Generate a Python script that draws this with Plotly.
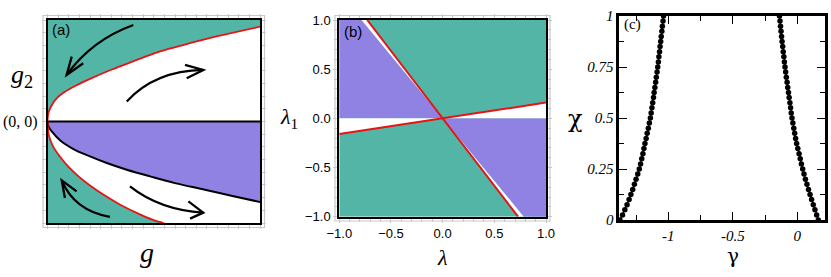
import plotly.graph_objects as go

# ---------------- Panel (a) data ----------------
a_upper_red_g = [0, 0.005, 0.02, 0.044, 0.08, 0.13, 0.2, 0.3, 0.4, 0.53, 0.65, 0.8, 1.0]
a_upper_red_g2 = [0, 0.09, 0.16, 0.23, 0.29, 0.35, 0.42, 0.51, 0.59, 0.69, 0.76, 0.84, 0.934]
a_lower_red_g = [0, 0.005, 0.0127, 0.03, 0.06, 0.1, 0.146, 0.2, 0.27, 0.342, 0.44, 0.51, 0.544, 0.6]
a_lower_red_g2 = [0, -0.12, -0.18, -0.26, -0.35, -0.45, -0.54, -0.63, -0.73, -0.82, -0.92, -0.98, -1.0, -1.05]
a_black_g = [0, 0.005, 0.02, 0.06, 0.122, 0.2, 0.279, 0.373, 0.483, 0.6, 0.741, 0.87, 1.0]
a_black_g2 = [0, -0.05, -0.098, -0.187, -0.271, -0.344, -0.409, -0.475, -0.541, -0.607, -0.672, -0.733, -0.793]

# ---------------- Panel (b) data ----------------
b_steep_red_x = [-0.73, 0.73]
b_steep_red_y = [1.0, -1.0]
b_purple_edge_x = [-0.785, 0.785]
b_purple_edge_y = [1.0, -1.0]
b_shallow_red_x = [-1.0, 1.0]
b_shallow_red_y = [-0.16, 0.16]
b_tick_vals = [-1.0, -0.5, 0.0, 0.5, 1.0]

# ---------------- Panel (c) data ----------------
c_chi = [0.000, 0.025, 0.050, 0.075, 0.100, 0.125, 0.150, 0.175, 0.200, 0.225,
         0.250, 0.275, 0.300, 0.325, 0.350, 0.375, 0.400, 0.425, 0.450, 0.475,
         0.500, 0.525, 0.550, 0.575, 0.600, 0.625, 0.650, 0.675, 0.700, 0.725,
         0.750, 0.775, 0.800, 0.825, 0.850, 0.875, 0.900, 0.925, 0.950, 0.975, 1.000]
c_gamma_left = [-1.375, -1.355, -1.337, -1.320, -1.304, -1.290, -1.276, -1.263, -1.250, -1.237,
                -1.225, -1.215, -1.206, -1.197, -1.189, -1.181, -1.172, -1.164, -1.155, -1.147,
                -1.139, -1.133, -1.127, -1.121, -1.115, -1.110, -1.104, -1.098, -1.093, -1.087,
                -1.082, -1.077, -1.073, -1.068, -1.064, -1.059, -1.055, -1.050, -1.046, -1.041, -1.037]
c_gamma_right = [0.163, 0.150, 0.137, 0.124, 0.111, 0.099, 0.087, 0.075, 0.063, 0.052,
                 0.042, 0.032, 0.023, 0.014, 0.004, -0.005, -0.013, -0.020, -0.027, -0.034,
                 -0.041, -0.047, -0.052, -0.057, -0.063, -0.068, -0.074, -0.079, -0.085, -0.090,
                 -0.095, -0.100, -0.104, -0.109, -0.113, -0.118, -0.122, -0.126, -0.130, -0.134, -0.138]
c_x_tickvals = [-1, -0.5, 0]
c_x_ticktext = ["-1", "-0.5", "0"]
c_y_tickvals = [0, 0.25, 0.5, 0.75, 1]
c_y_ticktext = ["0", "0.25", "0.5", "0.75", "1"]

GREEN = "rgb(82,181,166)"
PURPLE = "rgb(144,130,226)"
RED = "rgb(230,20,20)"
W, H = 831, 277

fig = go.Figure()

# ---------- panel (a) ----------
fig.add_trace(go.Scatter(x=[0, 1, 1, 0], y=[-1, -1, 1, 1], fill="toself", fillcolor=GREEN,
                         mode="lines", line=dict(width=0), xaxis="x", yaxis="y", hoverinfo="skip"))
wx = a_upper_red_g + [1.0, 1.0] + a_lower_red_g[::-1]
wy = a_upper_red_g2 + [a_upper_red_g2[-1], -1.1] + a_lower_red_g2[::-1]
fig.add_trace(go.Scatter(x=wx, y=wy, fill="toself", fillcolor="white", mode="lines",
                         line=dict(width=0, shape="spline"), xaxis="x", yaxis="y", hoverinfo="skip"))
px_ = a_black_g + [1.0]
py_ = a_black_g2 + [0.0]
fig.add_trace(go.Scatter(x=px_, y=py_, fill="toself", fillcolor=PURPLE, mode="lines",
                         line=dict(width=0), xaxis="x", yaxis="y", hoverinfo="skip"))
fig.add_trace(go.Scatter(x=[0, 1], y=[0, 0], mode="lines", line=dict(color="black", width=2),
                         xaxis="x", yaxis="y"))
fig.add_trace(go.Scatter(x=a_black_g, y=a_black_g2, mode="lines", line=dict(color="black", width=2, shape="spline"),
                         xaxis="x", yaxis="y"))
fig.add_trace(go.Scatter(x=a_upper_red_g, y=a_upper_red_g2, mode="lines", line=dict(color=RED, width=1.8, shape="spline"),
                         xaxis="x", yaxis="y"))
fig.add_trace(go.Scatter(x=a_lower_red_g, y=a_lower_red_g2, mode="lines", line=dict(color=RED, width=1.8, shape="spline"),
                         xaxis="x", yaxis="y"))

# ---------- panel (b) ----------
fig.add_trace(go.Scatter(x=[-1, 1, 1, -1], y=[-1, -1, 1, 1], fill="toself", fillcolor=GREEN,
                         mode="lines", line=dict(width=0), xaxis="x2", yaxis="y2", hoverinfo="skip"))
fig.add_trace(go.Scatter(x=[-1, 0, b_purple_edge_x[0], -1], y=[0, 0, 1, 1], fill="toself", fillcolor=PURPLE,
                         mode="lines", line=dict(width=0), xaxis="x2", yaxis="y2", hoverinfo="skip"))
fig.add_trace(go.Scatter(x=[0, 1, 1, b_purple_edge_x[1]], y=[0, 0, -1, -1], fill="toself", fillcolor=PURPLE,
                         mode="lines", line=dict(width=0), xaxis="x2", yaxis="y2", hoverinfo="skip"))
fig.add_trace(go.Scatter(x=[0, b_purple_edge_x[0], b_steep_red_x[0]], y=[0, 1, 1], fill="toself", fillcolor="white",
                         mode="lines", line=dict(width=0), xaxis="x2", yaxis="y2", hoverinfo="skip"))
fig.add_trace(go.Scatter(x=[0, b_purple_edge_x[1], b_steep_red_x[1]], y=[0, -1, -1], fill="toself", fillcolor="white",
                         mode="lines", line=dict(width=0), xaxis="x2", yaxis="y2", hoverinfo="skip"))
fig.add_trace(go.Scatter(x=[-1, 0, -1], y=[0, 0, b_shallow_red_y[0]], fill="toself", fillcolor="white",
                         mode="lines", line=dict(width=0), xaxis="x2", yaxis="y2", hoverinfo="skip"))
fig.add_trace(go.Scatter(x=[0, 1, 1], y=[0, 0, b_shallow_red_y[1]], fill="toself", fillcolor="white",
                         mode="lines", line=dict(width=0), xaxis="x2", yaxis="y2", hoverinfo="skip"))
fig.add_trace(go.Scatter(x=b_steep_red_x, y=b_steep_red_y, mode="lines", line=dict(color=RED, width=2),
                         xaxis="x2", yaxis="y2"))
fig.add_trace(go.Scatter(x=b_shallow_red_x, y=b_shallow_red_y, mode="lines", line=dict(color=RED, width=2),
                         xaxis="x2", yaxis="y2"))

# ---------- panel (c) ----------
for gx in (c_gamma_left, c_gamma_right):
    fig.add_trace(go.Scatter(x=gx, y=c_chi, mode="lines+markers",
                             line=dict(color="black", width=1.2),
                             marker=dict(color="black", size=5.5),
                             cliponaxis=False, xaxis="x3", yaxis="y3"))

# ---------- layout ----------
def dom(x0, x1, y0, y1):
    return [x0 / W, x1 / W], [1 - y1 / H, 1 - y0 / H]

ax_a, ay_a = dom(47.5, 260, 20, 223)
ax_b, ay_b = dom(339.3, 546, 20, 216.7)
ax_c, ay_c = dom(619.3, 825, 16, 220)

frame_gray = "#c8c8c8"
common_a = dict(showgrid=False, zeroline=False, showline=True, linecolor="black", linewidth=2,
                mirror="ticks", ticks="outside", tickcolor=frame_gray, ticklen=4, tickwidth=1)

fig.update_layout(
    width=W, height=H, margin=dict(l=0, r=0, t=0, b=0, pad=0, autoexpand=False),
    paper_bgcolor="white", plot_bgcolor="white", showlegend=False,
    xaxis=dict(domain=ax_a, range=[0, 1], anchor="y", dtick=0.05, showticklabels=False, **common_a),
    yaxis=dict(domain=ay_a, range=[-1, 1], anchor="x", dtick=0.125, showticklabels=False, **common_a),
    xaxis2=dict(domain=ax_b, range=[-1, 1], anchor="y2", tickvals=b_tick_vals, tickformat=".1f",
                tickfont=dict(family="Liberation Sans", size=13, color="black"),
                minor=dict(dtick=0.1, ticklen=3, tickcolor=frame_gray, ticks="outside"),
                **common_a),
    yaxis2=dict(domain=ay_b, range=[-1, 1], anchor="x2", tickvals=b_tick_vals, tickformat=".1f",
                tickfont=dict(family="Liberation Sans", size=13, color="black"),
                minor=dict(dtick=0.1, ticklen=3, tickcolor=frame_gray, ticks="outside"),
                **common_a),
    xaxis3=dict(domain=ax_c, range=[-1.38, 0.215], anchor="y3", tickvals=c_x_tickvals, ticktext=c_x_ticktext,
                showgrid=False, zeroline=False, showline=True, linecolor="black", linewidth=2.8,
                mirror="ticks", ticks="inside", ticklen=8, tickwidth=1.3, tickcolor="black",
                minor=dict(tickvals=[-1.25, -0.75, -0.25], ticklen=5, ticks="inside", tickcolor="black"),
                tickfont=dict(family="Liberation Serif", size=15, color="black", style="italic")),
    yaxis3=dict(domain=ay_c, range=[0, 1], anchor="x3", tickvals=c_y_tickvals, ticktext=c_y_ticktext,
                showgrid=False, zeroline=False, showline=True, linecolor="black", linewidth=2.8,
                mirror="ticks", ticks="inside", ticklen=8, tickwidth=1.3, tickcolor="black",
                minor=dict(tickvals=[0.125, 0.375, 0.625, 0.875], ticklen=5, ticks="inside", tickcolor="black"),
                tickfont=dict(family="Liberation Serif", size=15, color="black", style="italic")),
)

shapes = []
for (x0, x1, y0, y1) in [(43, 264.5, 15.5, 227.5), (335, 550, 15.5, 221)]:
    shapes.append(dict(type="rect", xref="paper", yref="paper", x0=x0 / W, x1=x1 / W,
                       y0=1 - y1 / H, y1=1 - y0 / H, line=dict(color=frame_gray, width=1.2), layer="below"))

arrows = [
    ((0.404, 0.951), (0.208, 0.803), (0.090, 0.459), (0.114, 0.639), (0.168, 0.574)),
    ((0.373, 0.197), (0.506, 0.500), (0.733, 0.508), (0.647, 0.557), (0.655, 0.427)),
    ((0.294, -0.940), (0.126, -0.878), (0.067, -0.580), (0.082, -0.753), (0.137, -0.688)),
    ((0.388, -0.639), (0.529, -0.871), (0.733, -0.898), (0.663, -0.787), (0.671, -0.957)),
]
for p0, c, p2, w1, w2 in arrows:
    shapes.append(dict(type="path", xref="x", yref="y",
                       path=f"M {p0[0]},{p0[1]} Q {c[0]},{c[1]} {p2[0]},{p2[1]}",
                       line=dict(color="black", width=2.3)))
    shapes.append(dict(type="path", xref="x", yref="y",
                       path=f"M {w1[0]},{w1[1]} L {p2[0]},{p2[1]} L {w2[0]},{w2[1]}",
                       line=dict(color="black", width=2.3)))
fig.update_layout(shapes=shapes)

def ann(text, x, y, size, family="Liberation Serif", xanchor="center", **kw):
    return dict(text=text, x=x / W, y=1 - y / H, xref="paper", yref="paper", showarrow=False,
                xanchor=xanchor, yanchor="middle", font=dict(family=family, size=size, color="black", **kw))

fig.update_layout(annotations=[
    ann("(a)", 50, 30, 15, family="Liberation Sans", xanchor="left"),
    ann("(b)", 341.5, 32, 15, family="Liberation Sans", xanchor="left"),
    ann("(c)", 621.5, 24.5, 15, xanchor="left"),
    ann("<i>g</i><sub>2</sub>", 22, 76, 26),
    ann("<i>g</i>", 147, 252, 28),
    ann("(0, 0)", 20.5, 121.7, 16),
    ann("<i>λ</i><sub>1</sub>", 289, 118, 22),
    ann("<i>λ</i>", 443, 257, 22),
    ann("χ", 575, 119, 24, family="DejaVu Serif"),
    ann("γ", 733, 256, 20, family="DejaVu Serif"),
])

fig.write_html("out.html", config={"displayModeBar": False},
               post_script="document.body.style.margin='0px';document.body.style.overflow='hidden';")
